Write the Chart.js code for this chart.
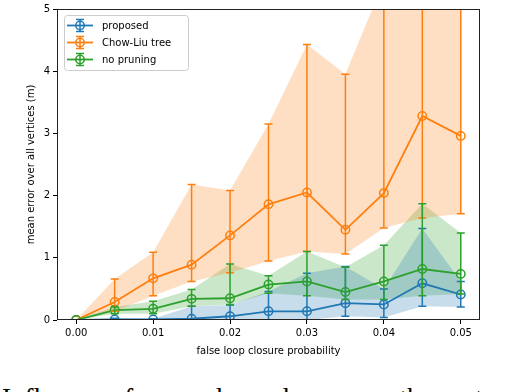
<!DOCTYPE html>
<html>
<head>
<meta charset="utf-8">
<script src="https://cdn.jsdelivr.net/npm/chart.js@4.4.1/dist/chart.umd.min.js"></script>
<style>
  html, body { margin: 0; padding: 0; background: #fff; }
  #wrap { position: relative; width: 506px; height: 392px; overflow: hidden; }
  #caption {
    position: absolute; left: 2px; top: 385px; white-space: nowrap;
    font-family: "Liberation Serif", serif; font-size: 27px; line-height: 27px; color: #000;
  }
  canvas { position: absolute; left: 0; top: 0; }
</style>
</head>
<body>
<div id="wrap">
  <div id="caption">Influence of wrong loop closures on the root mean square</div>
  <canvas id="errChart" width="506" height="392"></canvas>
</div>
<script>
// false loop closure probability
const probs = [0, 0.005, 0.01, 0.015, 0.02, 0.025, 0.03, 0.035, 0.04, 0.045, 0.05];
const xTicks = [0, 0.01, 0.02, 0.03, 0.04, 0.05];
const yTicks = [0, 1, 2, 3, 4, 5];

// proposed
const proposedMean = [0, 0.01, 0.01, 0.02, 0.06, 0.14, 0.14, 0.27, 0.25, 0.59, 0.41];
const proposedLow  = [0, 0, 0, 0, 0, 0, 0, 0.06, 0.04, 0.22, 0.21];
const proposedHigh = [0, 0.03, 0.02, 0.22, 0.24, 0.46, 0.75, 0.86, 0.50, 1.47, 0.62];

// Chow-Liu tree
const chowLiuMean = [0, 0.29, 0.67, 0.89, 1.36, 1.86, 2.05, 1.45, 2.04, 3.28, 2.96];
const chowLiuLow  = [0, 0.14, 0.39, 0.62, 0.76, 0.95, 1.10, 1.06, 1.48, 1.64, 1.71];
const chowLiuHigh = [0, 0.66, 1.09, 2.18, 2.08, 3.15, 4.43, 3.95, 5.45, 6.2, 6.0];

// no pruning
const noPruneMean = [0, 0.16, 0.18, 0.34, 0.35, 0.57, 0.62, 0.45, 0.62, 0.82, 0.74];
const noPruneLow  = [0, 0.10, 0.10, 0.22, 0.25, 0.43, 0.39, 0.33, 0.33, 0.39, 0.42];
const noPruneHigh = [0, 0.21, 0.30, 0.49, 0.90, 0.71, 1.10, 0.85, 1.20, 1.87, 1.40];

const series = [
  { label: 'proposed', color: '#1f77b4', band: 'rgba(31,119,180,0.25)', mean: proposedMean, low: proposedLow, high: proposedHigh },
  { label: 'Chow-Liu tree', color: '#ff7f0e', band: 'rgba(255,127,14,0.25)', mean: chowLiuMean, low: chowLiuLow, high: chowLiuHigh },
  { label: 'no pruning', color: '#2ca02c', band: 'rgba(44,160,44,0.25)', mean: noPruneMean, low: noPruneLow, high: noPruneHigh }
];

const pts = arr => arr.map((v, i) => ({ x: probs[i], y: v }));

const datasets = [];
series.forEach((s, k) => {
  // band: lower edge, then upper edge filled down to it
  datasets.push({ data: pts(s.low), borderWidth: 0, pointRadius: 0, fill: false, order: 20 + k });
  datasets.push({ data: pts(s.high), borderWidth: 0, pointRadius: 0, backgroundColor: s.band,
                  fill: datasets.length - 1, order: 20 + k });
});
series.forEach((s, k) => {
  datasets.push({
    label: s.label, data: pts(s.mean), borderColor: s.color, borderWidth: 1.8,
    pointRadius: 4.2, pointBorderWidth: 1.5, pointBackgroundColor: 'rgba(0,0,0,0)',
    pointBorderColor: s.color, fill: false, order: 5 - k, tension: 0
  });
});

const font = { family: 'DejaVu Sans', size: 10 };

const extras = {
  id: 'extras',
  afterDatasetsDraw(chart) {
    const { ctx, chartArea: a, scales: { x, y } } = chart;
    ctx.save();
    ctx.beginPath();
    ctx.rect(a.left, a.top, a.right - a.left, a.bottom - a.top);
    ctx.clip();
    ctx.lineWidth = 1.5;
    series.forEach(s => {
      ctx.strokeStyle = s.color;
      probs.forEach((p, i) => {
        if (s.high[i] === s.low[i]) return;
        const px = x.getPixelForValue(p);
        const y1 = y.getPixelForValue(s.low[i]);
        const y2 = y.getPixelForValue(s.high[i]);
        ctx.beginPath();
        ctx.moveTo(px, y1); ctx.lineTo(px, y2);
        ctx.moveTo(px - 4, y1); ctx.lineTo(px + 4, y1);
        ctx.moveTo(px - 4, y2); ctx.lineTo(px + 4, y2);
        ctx.stroke();
      });
    });
    ctx.restore();
  },
  afterDraw(chart) {
    const { ctx, chartArea: a } = chart;
    ctx.save();
    // frame
    ctx.strokeStyle = '#222';
    ctx.lineWidth = 1;
    ctx.strokeRect(a.left + 0.5, a.top + 0.5, a.right - a.left - 1, a.bottom - a.top - 1);
    // legend
    const bx = a.left + 7, by = a.top + 6;
    ctx.beginPath();
    ctx.roundRect(bx + 0.5, by + 0.5, 124, 55, 3);
    ctx.fillStyle = 'rgba(255,255,255,0.8)';
    ctx.fill();
    ctx.strokeStyle = '#cccccc';
    ctx.stroke();
    ctx.font = '10px "DejaVu Sans"';
    ctx.textBaseline = 'middle';
    series.forEach((s, k) => {
      const cy = by + 10.5 + k * 17;
      const cx = bx + 16;
      ctx.strokeStyle = s.color;
      ctx.lineWidth = 1.8;
      ctx.beginPath();
      ctx.moveTo(bx + 3, cy); ctx.lineTo(bx + 29, cy);
      ctx.stroke();
      ctx.lineWidth = 1.5;
      ctx.beginPath();
      ctx.moveTo(cx, cy - 6); ctx.lineTo(cx, cy + 6);
      ctx.moveTo(cx - 4, cy - 6); ctx.lineTo(cx + 4, cy - 6);
      ctx.moveTo(cx - 4, cy + 6); ctx.lineTo(cx + 4, cy + 6);
      ctx.stroke();
      ctx.beginPath();
      ctx.arc(cx, cy, 4.2, 0, Math.PI * 2);
      ctx.stroke();
      ctx.fillStyle = '#000';
      ctx.fillText(s.label, bx + 38, cy + 0.5);
    });
    ctx.restore();
  }
};

new Chart(document.getElementById('errChart'), {
  type: 'line',
  data: { datasets },
  options: {
    responsive: false,
    animation: false,
    layout: { padding: { left: 25, top: 6, right: 26, bottom: 35 } },
    plugins: { legend: { display: false }, tooltip: { enabled: false } },
    scales: {
      x: {
        type: 'linear', min: -0.0025, max: 0.0525,
        afterBuildTicks: sc => { sc.ticks = xTicks.map(v => ({ value: v })); },
        afterFit: sc => { sc.height = 37; },
        grid: { drawOnChartArea: false, drawTicks: true, tickLength: 4, tickColor: '#000' },
        border: { display: false },
        ticks: { font, color: '#000', padding: 3, maxRotation: 0, callback: v => v.toFixed(2) },
        title: { display: true, text: 'false loop closure probability', font, color: '#000', padding: { top: 0, bottom: 0 } }
      },
      y: {
        type: 'linear', min: 0, max: 5,
        afterBuildTicks: sc => { sc.ticks = yTicks.map(v => ({ value: v })); },
        afterFit: sc => { sc.width = 32; },
        grid: { drawOnChartArea: false, drawTicks: true, tickLength: 4, tickColor: '#000' },
        border: { display: false },
        ticks: { font, color: '#000', padding: 3, callback: v => String(v) },
        title: { display: true, text: 'mean error over all vertices (m)', font, color: '#000', padding: { top: 0, bottom: 0 } }
      }
    }
  },
  plugins: [extras]
});
</script>
</body>
</html>
